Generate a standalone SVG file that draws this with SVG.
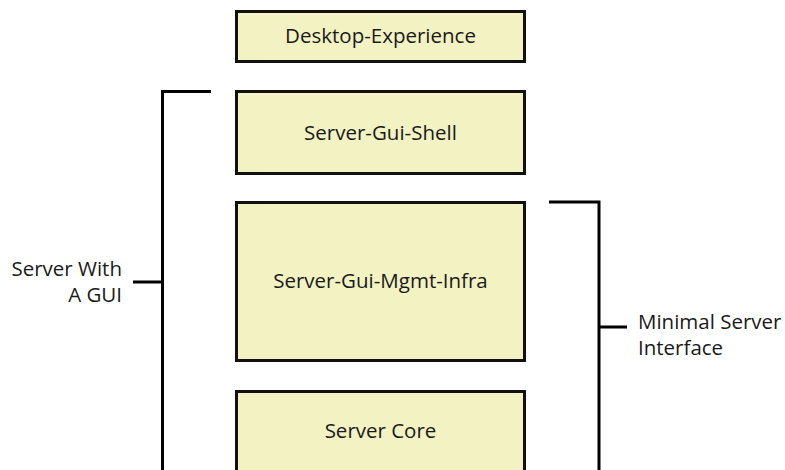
<svg xmlns="http://www.w3.org/2000/svg" width="785" height="470" viewBox="0 0 785 470">
  <style>
    .box { fill: #F2F2C3; stroke: #111111; stroke-width: 3; }
    .lbl { font-family: "Open Sans", "Noto Sans", "Liberation Sans", sans-serif; font-size: 20.5px; fill: #1a1a1a; }
    .mid { text-anchor: middle; }
    .end { text-anchor: end; }
    .br { fill: none; stroke: #000000; stroke-width: 3; }
  </style>
  <rect x="0" y="0" width="785" height="470" fill="#ffffff"/>
  <g id="desktop-experience">
    <rect class="box" x="236.5" y="11.5" width="288" height="50"/>
    <text class="lbl mid" x="380.5" y="43">Desktop-Experience</text>
  </g>
  <g id="server-gui-shell">
    <rect class="box" x="236.5" y="91.5" width="288" height="82"/>
    <text class="lbl mid" x="380.5" y="139.5">Server-Gui-Shell</text>
  </g>
  <g id="server-gui-mgmt-infra">
    <rect class="box" x="236.5" y="202.5" width="288" height="158"/>
    <text class="lbl mid" x="380.5" y="288">Server-Gui-Mgmt-Infra</text>
  </g>
  <g id="server-core">
    <rect class="box" x="236.5" y="391.5" width="288" height="100"/>
    <text class="lbl mid" x="380.5" y="438">Server Core</text>
  </g>
  <g id="connectors">
    <path class="br" d="M211 91.5 H162.5 V472 M162.5 282 H133"/>
    <path class="br" d="M549 202 H599 V472 M599 327 H627"/>
  </g>
  <g id="server-with-a-gui">
    <text class="lbl end" x="122" y="276">Server With</text>
    <text class="lbl end" x="122" y="302">A GUI</text>
  </g>
  <g id="minimal-server-interface">
    <text class="lbl" x="638" y="329">Minimal Server</text>
    <text class="lbl" x="638" y="355">Interface</text>
  </g>
</svg>
